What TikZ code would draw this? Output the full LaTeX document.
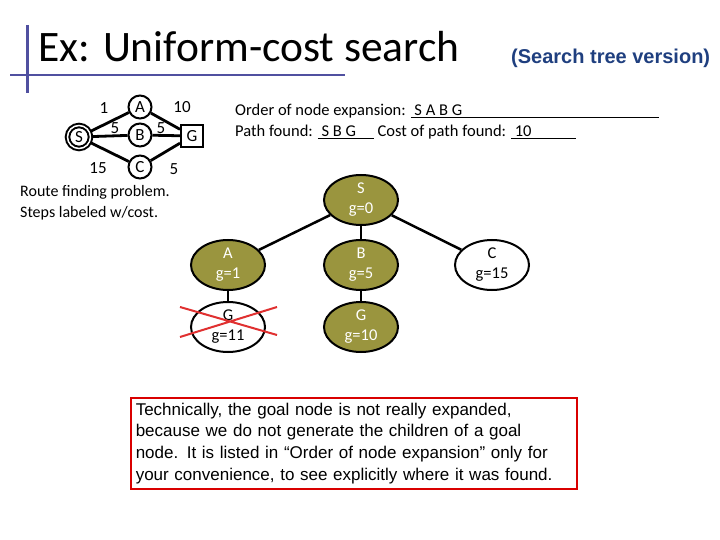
\documentclass[tikz,border=0pt]{standalone}
\usepackage{fontspec}
\setmainfont{Carlito}
\newfontfamily\arialf{Liberation Sans}
\begin{document}
\begin{tikzpicture}[x=1pt,y=-1pt,
  gn/.style={circle,draw,line width=2pt,inner sep=0pt,minimum size=23pt,font=\fontsize{17}{17}\selectfont},
  lab/.style={font=\fontsize{17}{17}\selectfont,inner sep=0pt},
  tn/.style={ellipse,draw,line width=2pt,minimum width=74pt,minimum height=50pt,fill=olive!80!black!75,text=white,align=center,font=\fontsize{16.5}{20}\selectfont,inner sep=0pt},
  te/.style={line width=2.5pt},
  ge/.style={line width=2.8pt}]
\usetikzlibrary{shapes.geometric}
\useasboundingbox (0,0) rectangle (720,540);
% header
\draw[line width=3pt,color={rgb,255:red,80;green,80;blue,160}] (27,25) -- (27,93);
\draw[line width=2.5pt,color={rgb,255:red,80;green,80;blue,160}] (10,75) -- (345,75);
\node[anchor=base west,inner sep=0pt,font=\fontsize{43.5}{44}\selectfont] (title) at (38,62) {Ex: Uniform-cost search};
\node[anchor=base west,inner sep=0pt,font=\arialf\bfseries\fontsize{20}{20}\selectfont,text={rgb,255:red,31;green,63;blue,127}] (sub) at (511,64) {(Search tree version)};
% small graph
\node[gn,double,double distance=1.5pt] (S) at (79,137) {S};
\node[gn] (A) at (140,107) {A};
\node[gn] (B) at (140,135) {B};
\node[gn] (C) at (140,167) {C};
\node[draw,line width=2pt,minimum size=22pt,inner sep=0pt,font=\fontsize{17}{17}\selectfont] (G) at (192,136) {G};
\draw[ge] (S)--(A); \draw[ge] (S)--(B); \draw[ge] (S)--(C);
\draw[ge] (A)--(G); \draw[ge] (B)--(G); \draw[ge] (C)--(G);
\node[lab] (l1) at (104,108) {1};
\node[lab] (l2) at (182,107) {10};
\node[lab] (l3) at (115,128) {5};
\node[lab] (l4) at (161,128) {5};
\node[lab] (l5) at (98,168) {15};
\node[lab] (l6) at (174,169) {5};
\node[anchor=north west,inner sep=0pt,align=left,font=\fontsize{16}{21}\selectfont] (rt) at (20,185) {Route finding problem.\\Steps labeled w/cost.};
% order text
\node[anchor=base west,inner sep=0pt,font=\fontsize{16.5}{16.5}\selectfont] (ord) at (235,116) {Order of node expansion: \underline{\hbox to 248pt{~S A B G\hfil}}};
\node[anchor=base west,inner sep=0pt,font=\fontsize{16.5}{16.5}\selectfont] (pf) at (235,137) {Path found: \underline{\hbox to 56pt{~S B G\hfil}} Cost of path found: \underline{\hbox to 65pt{~10\hfil}}};
% tree
\node[tn] (tS) at (361,200) {S\\g=0};
\node[tn] (tA) at (228,265) {A\\g=1};
\node[tn] (tB) at (361,265) {B\\g=5};
\node[tn,fill=white,text=black] (tC) at (492,265) {C\\g=15};
\node[tn,fill=white,text=black] (tG1) at (228,327) {G\\g=11};
\node[tn] (tG2) at (361,327) {G\\g=10};
\draw[te] (tS)--(tA); \draw[te] (tS)--(tB); \draw[te] (tS)--(tC);
\draw[te] (tA)--(tG1); \draw[te] (tB)--(tG2);
\coordinate (x1) at (180,307); \coordinate (x2) at (277,335);
\coordinate (x3) at (180,337); \coordinate (x4) at (277,307);
\draw[line width=2pt,color={rgb,255:red,224;green,48;blue,48}] (x1)--(x2) (x3)--(x4);
% note
\node[draw=red!85!black,line width=1.5pt,anchor=north west,text width=436pt,inner sep=5pt,align=left,font=\arialf\fontsize{17}{21.8}\selectfont] (note) at (130,397) {Technically, the goal node is not really expanded,\\because we do not generate the children of a goal\\node. It is listed in “Order of node expansion” only for\\your convenience, to see explicitly where it was found.};
\end{tikzpicture}
\end{document}
